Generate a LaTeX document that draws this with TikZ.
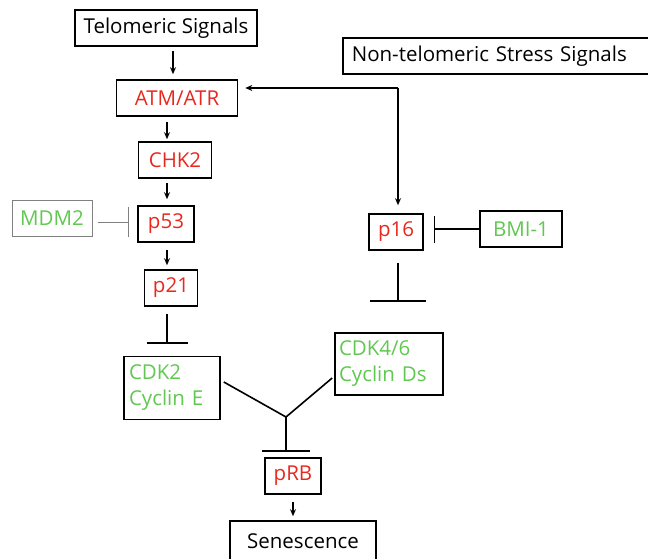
\documentclass[tikz,border=0pt]{standalone}
\usepackage{fontspec}
\setmainfont{Open Sans}
\usetikzlibrary{arrows.meta}
\definecolor{actred}{RGB}{232,40,30}
\definecolor{inhgreen}{RGB}{96,200,80}
\begin{document}
\begin{tikzpicture}[x=1pt, y=-1pt, line width=1.6pt,
	box/.style={draw, line width=1.6pt, minimum height=36pt, inner sep=0pt, font=\fontsize{20.5}{26}\selectfont},
	red/.style={box, text=actred},
	green/.style={box, text=inhgreen},
	act/.style={-{Stealth[length=7pt, width=6pt]}, line width=1.4pt},
	blk/.style={-{Bar[width=#1]}, line width=1.6pt}]
	\useasboundingbox (0,0) rectangle (648,559);
	\node[box, minimum width=182pt] (0) at (166, 28) {Telomeric Signals};
	\node[box, text width=300pt, align=left, inner xsep=9pt, anchor=west] (1) at (342, 56) {Non-telomeric Stress Signals};
	\node[red, minimum width=121pt] (2) at (177, 98) {ATM/ATR};
	\node[green, draw=gray, line width=1pt, minimum width=80pt] (4) at (52, 218) {MDM2};
	\node[red, minimum width=73pt] (3) at (175, 160) {CHK2};
	\node[red, minimum width=56pt] (5) at (166, 224) {p53};
	\node[red, minimum width=53pt] (6) at (171, 288) {p21};
	\node[red, minimum width=54pt] (7) at (396, 232) {p16};
	\node[green, minimum width=82pt] (8) at (521, 229) {BMI-1};
	\node[green, minimum width=96pt, minimum height=63pt, align=left, text width=86pt, inner xsep=5pt] (9) at (172, 388) {CDK2\\Cyclin E};
	\node[green, minimum width=108pt, minimum height=62pt, align=left, text width=100pt, inner xsep=4pt] (10) at (389, 364) {CDK4/6\\Cyclin Ds};
	\node[red, minimum width=56pt] (11) at (293, 476) {pRB};
	\node[box, minimum width=146pt, minimum height=40pt] (12) at (303, 541) {Senescence};
	\coordinate (13) at (398, 88);
	\coordinate (14) at (167, 344);
	\coordinate (15) at (398, 302);
	\coordinate (16) at (286, 417);
	\coordinate (17) at (286, 452);
	% activation arrows
	\draw[act] ([xshift=7pt, yshift=-4pt]0.south) -- ([xshift=-4pt, yshift=5pt]2.north);
	\draw[act] (13) -- ([xshift=7pt]13 -| 2.east);
	\draw[act] (13) -- ([yshift=8pt]7.north -| 13);
	\draw[act] ([xshift=-10pt, yshift=-5pt]2.south) -- ([xshift=-8pt, yshift=2pt]3.north);
	\draw[act] ([xshift=-8pt, yshift=-4pt]3.south) -- ([xshift=1pt, yshift=6pt]5.north);
	\draw[act] ([xshift=1pt, yshift=-7pt]5.south) -- ([xshift=-4pt, yshift=4pt]6.north);
	\draw[act] ([yshift=-7pt]11.south) -- ([yshift=4pt]12.north -| 11);
	% inhibition bars
	\draw[blk=30pt, gray, line width=1pt] ([xshift=5pt, yshift=-4pt]4.east) -- ([xshift=-8pt, yshift=2pt]5.west);
	\draw[blk=27pt] (8.west) -- ([xshift=10pt, yshift=3pt]7.east);
	\draw[blk=41pt] ([xshift=-4pt, yshift=-7pt]6.south) -- (14);
	\draw[blk=56pt] ([xshift=2pt, yshift=-12pt]7.south) -- (15);
	\draw ([xshift=3pt, yshift=6pt]9.east) -- (16);
	\draw ([xshift=-2pt, yshift=-14pt]10.west) -- (16);
	\draw[blk=48pt] (16) -- (17);
\end{tikzpicture}
\end{document}
